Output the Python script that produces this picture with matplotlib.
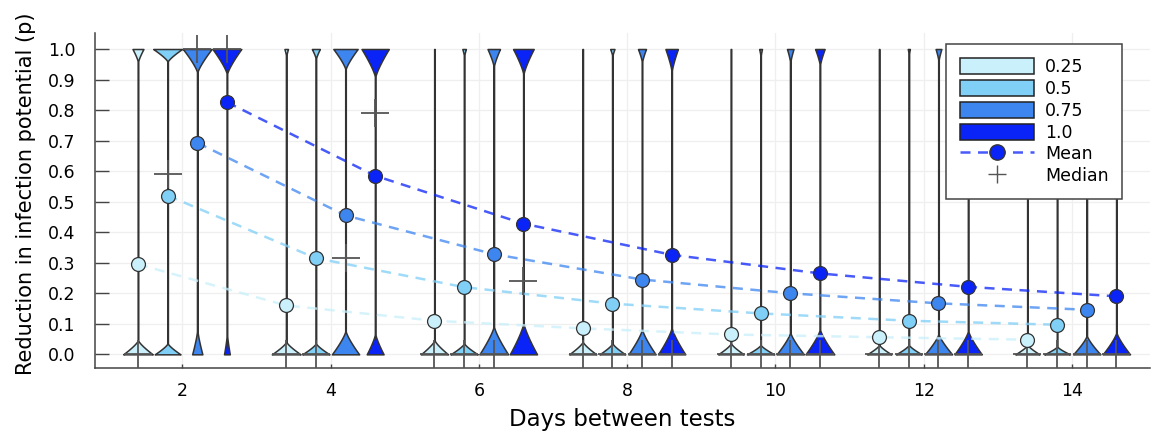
"""Violin plot: reduction in infection potential vs days between tests."""

import numpy as np
import matplotlib
matplotlib.use("Agg")
import matplotlib.pyplot as plt
from matplotlib import font_manager
from matplotlib.colors import to_rgba
from matplotlib.lines import Line2D
from matplotlib.patches import Patch

available = {f.name for f in font_manager.fontManager.ttflist}
for fam in ["DejaVu Sans Condensed", "Liberation Sans Narrow", "DejaVu Sans"]:
    if fam in available:
        plt.rcParams["font.family"] = fam
        break

days = [2, 4, 6, 8, 10, 12, 14]
groups = ["0.25", "0.5", "0.75", "1.0"]
offsets = [-0.6, -0.2, 0.2, 0.6]
colors = ["#c9f0fb", "#7fcff7", "#3d86f0", "#0a24f8"]

# mean per group (rows) for each day (columns)
means = [
    [0.295, 0.160, 0.110, 0.085, 0.065, 0.056, 0.048],
    [0.520, 0.315, 0.220, 0.166, 0.134, 0.110, 0.097],
    [0.693, 0.455, 0.328, 0.245, 0.200, 0.167, 0.146],
    [0.826, 0.585, 0.428, 0.326, 0.265, 0.221, 0.190],
]
medians = [
    [0.0, 0.0, 0.0, 0.0, 0.0, 0.0, 0.0],
    [0.59, 0.0, 0.0, 0.0, 0.0, 0.0, 0.0],
    [1.0, 0.315, 0.0, 0.0, 0.0, 0.0, 0.0],
    [1.0, 0.79, 0.24, 0.0, 0.0, 0.0, 0.0],
]

# violin density bulbs: half-width and height near p=0 (bottom) and p=1 (top)
bottom_width = [
    [0.195, 0.19, 0.18, 0.18, 0.17, 0.16, 0.16],
    [0.17, 0.18, 0.18, 0.17, 0.18, 0.17, 0.17],
    [0.065, 0.18, 0.19, 0.18, 0.18, 0.18, 0.18],
    [0.035, 0.11, 0.18, 0.18, 0.19, 0.18, 0.18],
]
bottom_height = [
    [0.045, 0.040, 0.045, 0.040, 0.035, 0.030, 0.030],
    [0.035, 0.035, 0.035, 0.035, 0.030, 0.030, 0.025],
    [0.075, 0.075, 0.090, 0.080, 0.070, 0.065, 0.060],
    [0.060, 0.065, 0.100, 0.085, 0.080, 0.075, 0.070],
]
top_width = [
    [0.07, 0.02, 0.0, 0.0, 0.0, 0.0, 0.0],
    [0.19, 0.05, 0.02, 0.025, 0.015, 0.01, 0.01],
    [0.19, 0.16, 0.08, 0.05, 0.04, 0.035, 0.03],
    [0.19, 0.18, 0.135, 0.08, 0.06, 0.04, 0.035],
]
top_height = [
    [0.040, 0.020, 0.0, 0.0, 0.0, 0.0, 0.0],
    [0.040, 0.030, 0.020, 0.020, 0.020, 0.015, 0.015],
    [0.075, 0.065, 0.055, 0.040, 0.040, 0.035, 0.030],
    [0.080, 0.090, 0.080, 0.070, 0.050, 0.040, 0.035],
]


def bulb(y, width, height):
    if width <= 0 or height <= 0:
        return np.zeros_like(y)
    return width * np.clip(1 - y / height, 0, None) ** 1.25


fig = plt.figure(figsize=(11.54, 4.32), dpi=100)
ax = fig.add_axes([0.0823, 0.148, 0.914, 0.776])

yy = np.linspace(0, 1, 800)
for g in range(4):
    for d, day in enumerate(days):
        x0 = day + offsets[g]
        w = (0.004 + bulb(yy, bottom_width[g][d], bottom_height[g][d])
             + bulb(1 - yy, top_width[g][d], top_height[g][d]))
        ax.fill_betweenx(yy, x0 - w, x0 + w, facecolor=colors[g],
                         edgecolor="#333333", linewidth=1.1, zorder=3)

for g in range(4):
    xs = [day + offsets[g] for day in days]
    ax.plot(xs, means[g], linestyle=(0, (4, 3)), color=to_rgba(colors[g], 0.75),
            linewidth=1.8, zorder=4)
    ax.plot(xs, medians[g], linestyle="none", marker="+", markersize=20,
            markeredgewidth=1.3, color="#555555", zorder=5)
    ax.plot(xs, means[g], linestyle="none", marker="o", markersize=10,
            markerfacecolor=colors[g], markeredgecolor="#333333",
            markeredgewidth=0.9, zorder=6)

ax.set_xlim(0.82, 15.05)
ax.set_ylim(-0.045, 1.053)
ax.set_xticks(days)
ax.set_yticks(np.round(np.arange(0, 1.01, 0.1), 1))
ax.set_yticklabels([f"{v:.1f}" for v in np.arange(0, 1.01, 0.1)])
ax.tick_params(axis="y", direction="in", length=10, width=1, color="#444444",
               labelsize=12.5, pad=14)
ax.tick_params(axis="x", direction="in", length=3, width=1, color="#444444",
               labelsize=12.5, pad=10)
ax.grid(True, color="#efefef", linewidth=0.9, zorder=0)
ax.set_axisbelow(True)
for side in ["top", "right"]:
    ax.spines[side].set_visible(False)
for side in ["left", "bottom"]:
    ax.spines[side].set_color("#444444")
    ax.spines[side].set_linewidth(1.1)

ax.set_xlabel("Days between tests", fontsize=16.5, labelpad=6)
ax.set_ylabel("Reduction in infection potential (p)", fontsize=15)
ax.yaxis.set_label_coords(-0.056, 0.52)

handles = [Patch(facecolor=c, edgecolor="#222222", linewidth=1.1) for c in colors]
handles.append(Line2D([], [], color=to_rgba(colors[3], 0.75), linestyle=(0, (4, 3)),
                      linewidth=1.8, marker="o", markersize=11,
                      markerfacecolor=colors[3], markeredgecolor="#333333"))
handles.append(Line2D([], [], linestyle="none", marker="+", markersize=13,
                      markeredgewidth=1.0, color="#555555"))
leg = ax.legend(handles, groups + ["Mean", "Median"], loc="upper right",
                bbox_to_anchor=(0.974, 0.966), fontsize=12.5, frameon=True,
                fancybox=False, framealpha=1, edgecolor="#444444",
                handlelength=4.3, handleheight=1.05, labelspacing=0.22,
                handletextpad=0.6, borderpad=0.8, borderaxespad=0)
leg.get_frame().set_linewidth(1.1)
leg.set_zorder(10)

fig.savefig("out.png", dpi=100)
